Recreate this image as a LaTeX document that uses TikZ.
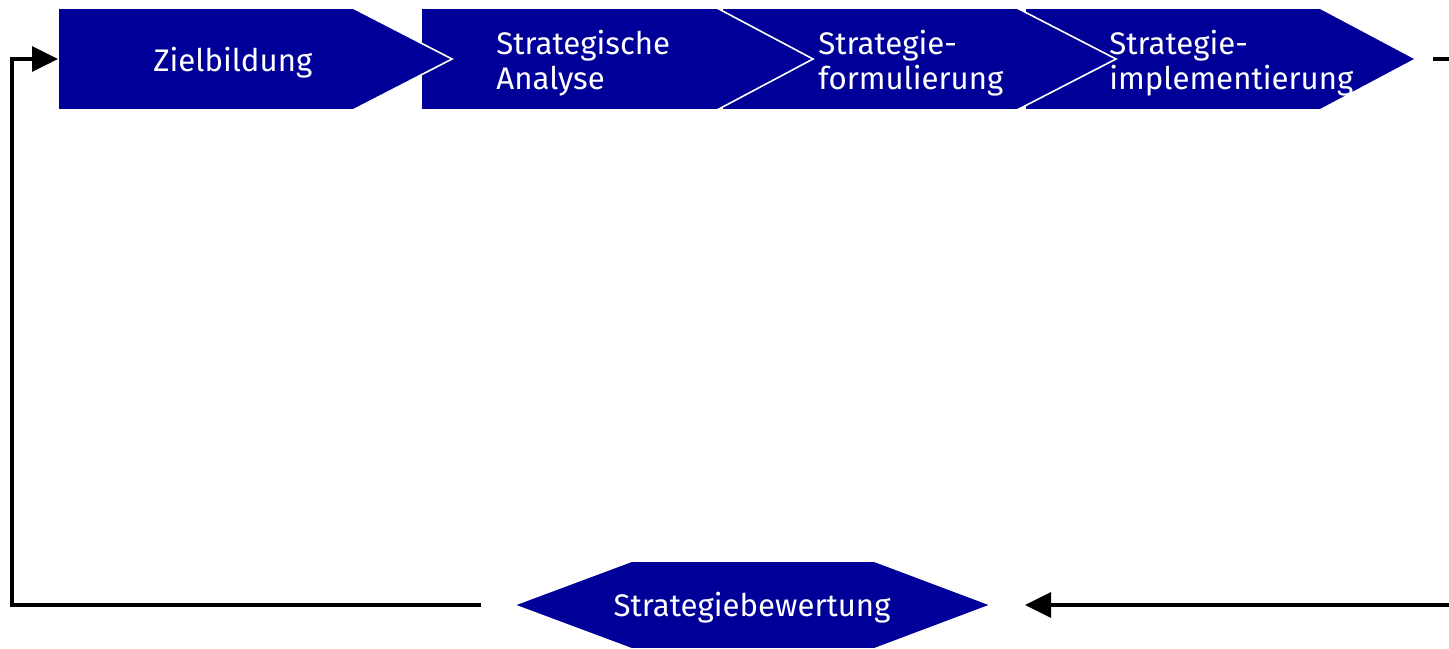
\documentclass[tikz,border=0pt]{standalone}
\usepackage{fontspec}
\setmainfont{Fira Sans}
\usetikzlibrary{arrows.meta}
\usetikzlibrary{calc}
\definecolor{PhaseBlue}{RGB}{0,0,153}

\begin{document}
\begin{tikzpicture}[x=0.5pt,y=-0.5pt]
   		\def \Top {8};
   		\def \Bot {110};
   		\def \Mid {59};
   		\tikzset{phase/.style={fill=PhaseBlue, draw=white, line width=0.8pt},
   		         phasetext/.style={white, align=left, anchor=west, inner sep=0pt, font=\fontsize{15.6}{17.2}\selectfont},
   		         flow/.style={line width=1.7pt, -{Triangle[length=13pt,width=12.5pt]}}}
   		\useasboundingbox (0,0) rectangle (1449,648);
   		\clip (0,0) rectangle (1449,648);
   		
   		% the four phases, from the last one back, so that each tip lies on the next box
   		\draw[phase] (1025,\Top) -- (1320,\Top) -- (1416,\Mid) -- (1320,\Bot) -- (1025,\Bot) -- cycle;
   		\draw[phase] (722,\Top) -- (1017,\Top) -- (1116,\Mid) -- (1017,\Bot) -- (722,\Bot) -- cycle;
   		\draw[phase] (421,\Top) -- (717,\Top) -- (813,\Mid) -- (717,\Bot) -- (421,\Bot) -- cycle;
   		\draw[phase] (58,\Top) -- (353,\Top) -- (452,\Mid) -- (353,\Bot) -- (58,\Bot) -- cycle;
   		
   		\node[phasetext](zielbildung) at (153,63){Zielbildung};
   		\node[phasetext](analyse) at (496,63){Strategische\\Analyse};
   		\node[phasetext](formulierung) at (818,63){Strategie-\\formulierung};
   		\node[phasetext](implementierung) at (1109,63){Strategie-\\implementierung};
   		
   		% evaluation at the bottom
   		\draw[phase] (514,605) -- (632,561) -- (874,561) -- (991,605) -- (874,649) -- (632,649) -- cycle;
   		\node[phasetext, anchor=center](bewertung) at (752,608){Strategiebewertung};
   		
   		\coordinate (zielIn) at (58,\Mid);
   		\coordinate (implOut) at (1416,\Mid);
   		\coordinate (bewIn) at (991,605);
   		\coordinate (bewOut) at (514,605);
   		
   		\draw[flow] ([xshift=-16.5pt]bewOut) -| ([xshift=-23pt]zielIn) -- (zielIn);
   		\draw[flow] ([xshift=8.5pt]implOut) -- ++(40,0) |- ([xshift=17pt]bewIn);
\end{tikzpicture}
\end{document}
